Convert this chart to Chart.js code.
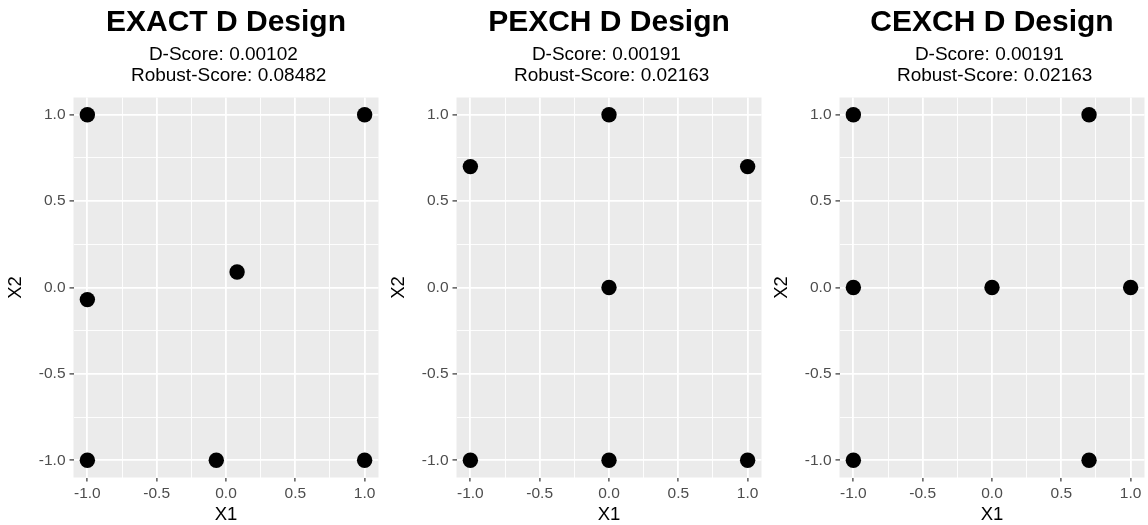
<!DOCTYPE html>
<html>
<head>
<meta charset="utf-8">
<script src="https://cdn.jsdelivr.net/npm/chart.js@4.4.1/dist/chart.umd.min.js"></script>
<style>
  html, body { margin: 0; padding: 0; background: #ffffff; overflow: hidden; }
  #wrap { position: relative; width: 1148px; height: 525px; }
  .panel { position: absolute; top: 0; width: 383px; height: 525px; }
</style>
</head>
<body>
<div id="wrap">
  <div class="panel" style="left:0px"><canvas id="c0" width="383" height="525"></canvas></div>
  <div class="panel" style="left:383px"><canvas id="c1" width="383" height="525"></canvas></div>
  <div class="panel" style="left:766px"><canvas id="c2" width="383" height="525"></canvas></div>
</div>
<script>
// Design titles and scores
const titles = ['EXACT D Design', 'PEXCH D Design', 'CEXCH D Design'];
const dScores = ['0.00102', '0.00191', '0.00191'];
const robustScores = ['0.08482', '0.02163', '0.02163'];

// Design points (X1, X2) for each design
const exactX1 = [-1, 1, -1, 0.08, -1, -0.07, 1];
const exactX2 = [1, 1, -0.07, 0.09, -1, -1, -1];

const pexchX1 = [0, -1, 1, 0, -1, 0, 1];
const pexchX2 = [1, 0.7, 0.7, 0, -1, -1, -1];

const cexchX1 = [-1, 0.7, -1, 0, 1, -1, 0.7];
const cexchX2 = [1, 1, 0, 0, 0, -1, -1];

// Axis ticks: major (labelled) and minor gridlines
const majorTicks = [-1.0, -0.5, 0.0, 0.5, 1.0];
const minorTicks = [-0.75, -0.25, 0.25, 0.75];
const axisMin = -1.1;
const axisMax = 1.1;

const designs = [
  { x: exactX1, y: exactX2 },
  { x: pexchX1, y: pexchX2 },
  { x: cexchX1, y: cexchX2 }
];

const FONT = "'Liberation Sans', Arial, Helvetica, sans-serif";

// grey panel background behind the plotting region
const panelBg = {
  id: 'panelBg',
  beforeDraw(chart) {
    const { ctx, chartArea: a } = chart;
    ctx.save();
    ctx.fillStyle = '#EBEBEB';
    ctx.fillRect(a.left, a.top, a.right - a.left, a.bottom - a.top);
    ctx.restore();
  }
};

const allTicks = [...majorTicks, ...minorTicks].sort((a, b) => a - b);
const isMajor = v => majorTicks.some(m => Math.abs(m - v) < 1e-9);

function axis(title, isX) {
  return {
    type: 'linear',
    min: axisMin,
    max: axisMax,
    afterBuildTicks(scale) {
      scale.ticks = allTicks.map(v => ({ value: v }));
    },
    afterFit(scale) {
      // fixed axis band sizes; tick labels never push the panel edges
      if (isX) {
        scale.height = 47.5;
        scale.paddingLeft = 0;
        scale.paddingRight = 0;
      } else {
        scale.width = 73.5;
        scale.paddingTop = 0;
        scale.paddingBottom = 0;
      }
    },
    border: { display: false },
    grid: {
      color: '#FFFFFF',
      lineWidth: ctx => (ctx.tick && isMajor(ctx.tick.value)) ? 1.8 : 0.9,
      drawTicks: true,
      tickLength: 4,
      tickWidth: 1.2,
      tickColor: ctx => (ctx.tick && isMajor(ctx.tick.value)) ? '#333333' : 'rgba(0,0,0,0)'
    },
    ticks: {
      autoSkip: false,
      maxRotation: 0,
      padding: isX ? 3 : 4,
      color: '#4D4D4D',
      font: { family: FONT, size: 15.5 },
      callback: v => isMajor(v) ? Number(v).toFixed(1) : ''
    },
    title: {
      display: true,
      text: title,
      color: '#000000',
      font: { family: FONT, size: 18.5, lineHeight: 1 },
      padding: isX ? { top: 0, bottom: 1 } : { top: 7, bottom: 0 }
    }
  };
}

designs.forEach((d, i) => {
  const pts = d.x.map((xv, k) => ({ x: xv, y: d.y[k] }));
  new Chart(document.getElementById('c' + i), {
    type: 'scatter',
    data: {
      datasets: [{
        data: pts,
        pointRadius: 7.7,
        pointHoverRadius: 7.7,
        pointBackgroundColor: '#000000',
        pointBorderWidth: 0,
        borderWidth: 0
      }]
    },
    options: {
      responsive: false,
      animation: false,
      events: [],
      layout: { autoPadding: false, padding: { left: 0, right: 4.5, top: 0, bottom: 0 } },
      scales: {
        x: axis('X1', true),
        y: axis('X2', false)
      },
      plugins: {
        legend: { display: false },
        tooltip: { enabled: false },
        title: {
          display: true,
          fullSize: false,
          text: titles[i],
          color: '#000000',
          font: { family: FONT, size: 30, weight: 'bold', lineHeight: 1 },
          padding: { top: 7.5, bottom: 7.1 }
        },
        subtitle: {
          display: true,
          fullSize: false,
          text: ['D-Score: ' + dScores[i] + ' ', ' Robust-Score: ' + robustScores[i]],
          color: '#000000',
          font: { family: FONT, size: 19, lineHeight: 21 / 19 },
          padding: { top: 0, bottom: 10.9 }
        }
      }
    },
    plugins: [panelBg]
  });
});
</script>
</body>
</html>
